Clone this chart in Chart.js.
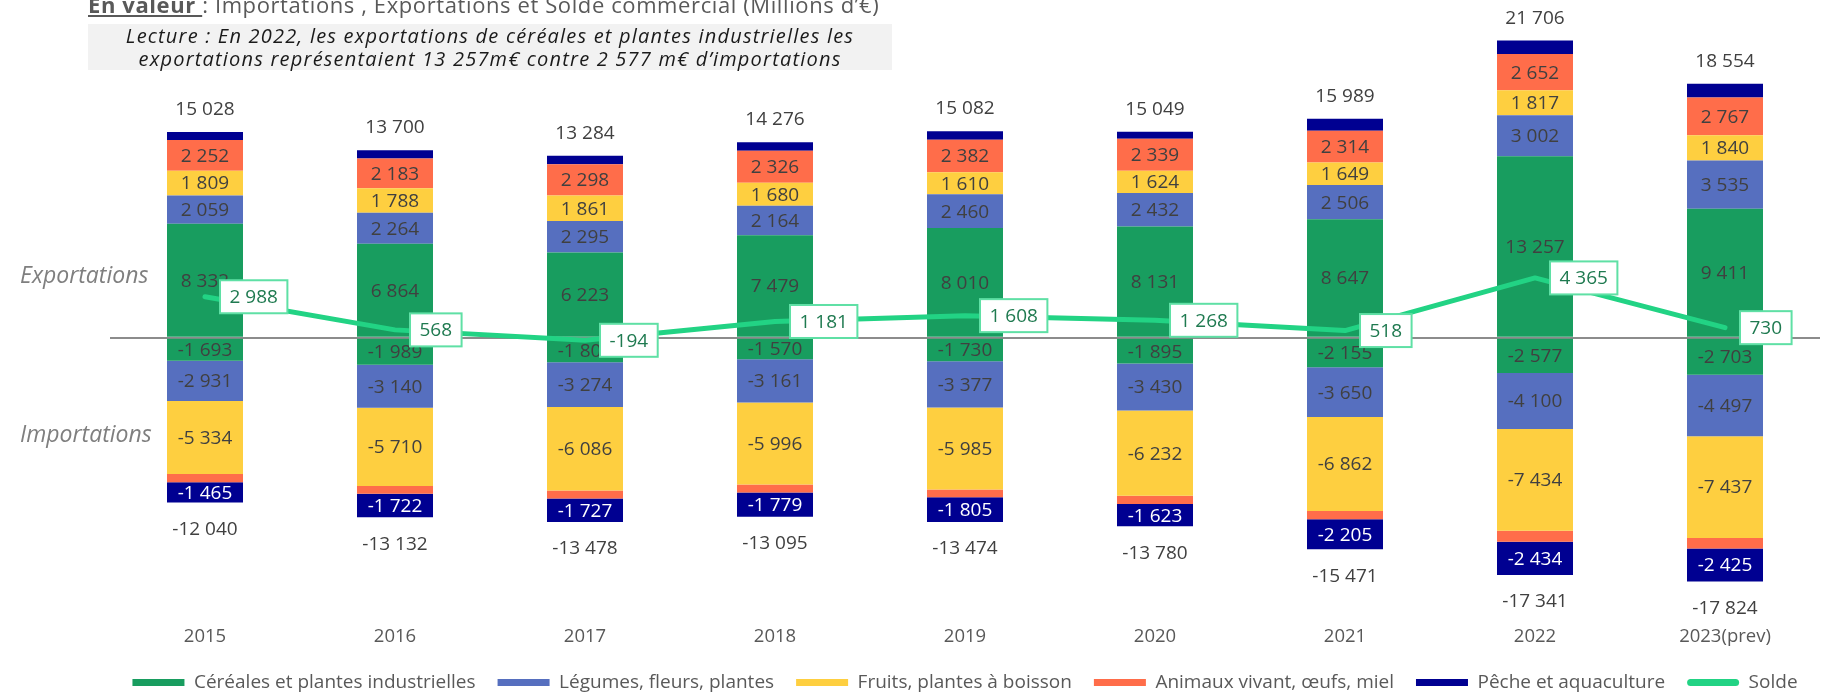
<!DOCTYPE html>
<html lang="fr">
<head>
<meta charset="utf-8">
<title>Importations, exportations et solde commercial</title>
<script src="https://cdn.jsdelivr.net/npm/chart.js@4.4.1/dist/chart.umd.min.js"></script>
<style>
  html, body { margin: 0; padding: 0; background: #fff; }
  #wrap { position: relative; width: 1841px; height: 694px; overflow: hidden; font-family: 'Open Sans', sans-serif; }
  #chart { position: absolute; left: 0; top: 0; }
  .overlay { position: absolute; white-space: nowrap; pointer-events: none; }
  #title { left: 88px; top: -7px; font-size: 22px; line-height: 22px; letter-spacing: 0.6px; color: #595959; }
  #title b { font-weight: 700; text-decoration: underline; }
  #lecture { left: 88px; top: 24px; width: 804px; height: 46px; background: #f2f2f2; text-align: center;
             font-style: italic; font-size: 20px; line-height: 23px; letter-spacing: 1.2px; color: #1a1a1a; }
  .side { left: 20px; font-style: italic; font-size: 23px; line-height: 28px; color: #7f7f7f; }
</style>
</head>
<body>
<div id="wrap">
  <canvas id="chart" width="1841" height="694"></canvas>
  <div id="title" class="overlay"><b>En valeur </b>: Importations , Exportations et Solde commercial (Millions d’€)</div>
  <div id="lecture" class="overlay">Lecture : En 2022, les exportations de céréales et plantes industrielles les<br>exportations représentaient 13 257m€ contre 2 577 m€ d’importations</div>
  <div class="overlay side" style="top:260px">Exportations</div>
  <div class="overlay side" style="top:419px">Importations</div>
</div>
<script>
const years = ['2015', '2016', '2017', '2018', '2019', '2020', '2021', '2022', '2023(prev)'];

// exportations (M€)
const expCereales = [8332, 6864, 6223, 7479, 8010, 8131, 8647, 13257, 9411];
const expLegumes  = [2059, 2264, 2295, 2164, 2460, 2432, 2506, 3002, 3535];
const expFruits   = [1809, 1788, 1861, 1680, 1610, 1624, 1649, 1817, 1840];
const expAnimaux  = [2252, 2183, 2298, 2326, 2382, 2339, 2314, 2652, 2767];
const expPeche    = [576, 601, 607, 627, 620, 523, 873, 978, 1001];

// importations (M€)
const impCereales = [-1693, -1989, -1801, -1570, -1730, -1895, -2155, -2577, -2703];
const impLegumes  = [-2931, -3140, -3274, -3161, -3377, -3430, -3650, -4100, -4497];
const impFruits   = [-5334, -5710, -6086, -5996, -5985, -6232, -6862, -7434, -7437];
const impAnimaux  = [-617, -571, -590, -589, -577, -600, -599, -796, -762];
const impPeche    = [-1465, -1722, -1727, -1779, -1805, -1623, -2205, -2434, -2425];

const exportTotals = [15028, 13700, 13284, 14276, 15082, 15049, 15989, 21706, 18554];
const importTotals = [-12040, -13132, -13478, -13095, -13474, -13780, -15471, -17341, -17824];
const solde = [2988, 568, -194, 1181, 1608, 1268, 518, 4365, 730];

const COL_CEREALES = '#189d5f';
const COL_LEGUMES = '#566fbf';
const COL_FRUITS = '#fecf40';
const COL_ANIMAUX = '#ff6d4a';
const COL_PECHE = '#000091';
const COL_SOLDE = '#22d384';

Chart.defaults.font.family = "'Open Sans', sans-serif";

function fmt(v) {
    const s = Math.abs(v).toString().replace(/\B(?=(\d{3})+(?!\d))/g, ' ');
    return (v < 0 ? '-' : '') + s;
}

function barSet(label, data, color, opts) {
    return Object.assign({
        type: 'bar',
        label: label,
        data: data,
        backgroundColor: color,
        stack: 'commerce',
        order: 1,
        categoryPercentage: 1,
        barPercentage: 0.4,
        showValues: true,
        valueColor: '#404040'
    }, opts || {});
}

// labels inside the bar segments, drawn right after each bar dataset (so under the line)
const segmentLabels = {
    id: 'segmentLabels',
    afterDatasetDraw(chart, args) {
        const ds = chart.data.datasets[args.index];
        if (!ds.showValues) return;
        const ctx = chart.ctx;
        ctx.save();
        ctx.font = "19px 'Open Sans'";
        ctx.textAlign = 'center';
        ctx.textBaseline = 'middle';
        ctx.fillStyle = ds.valueColor;
        args.meta.data.forEach((bar, j) => {
            ctx.fillText(fmt(ds.data[j]), bar.x, (bar.y + bar.base) / 2 + 1);
        });
        ctx.restore();
    },
    afterDatasetsDraw(chart) {
        const ctx = chart.ctx;
        ctx.save();
        ctx.font = "19px 'Open Sans'";
        ctx.textAlign = 'center';
        ctx.textBaseline = 'middle';
        ctx.fillStyle = '#404040';

        // totals above / below each stack
        chart.getDatasetMeta(4).data.forEach((bar, j) => {
            ctx.fillText(fmt(exportTotals[j]), bar.x, bar.y - 22.5);
        });
        chart.getDatasetMeta(9).data.forEach((bar, j) => {
            ctx.fillText(fmt(importTotals[j]), bar.x, bar.y + 27);
        });

        // solde boxes on the right of each point
        chart.getDatasetMeta(10).data.forEach((pt, j) => {
            const txt = fmt(solde[j]);
            const w = ctx.measureText(txt).width + 19;
            const h = 33;
            const x = pt.x + 15;
            const y = pt.y - h / 2;
            ctx.fillStyle = '#ffffff';
            ctx.fillRect(x, y, w, h);
            ctx.strokeStyle = '#5fe0a5';
            ctx.lineWidth = 2;
            ctx.strokeRect(x, y, w, h);
            ctx.fillStyle = '#1f7a50';
            ctx.fillText(txt, x + w / 2, pt.y + 1);
        });
        ctx.restore();
    }
};

const chart = new Chart(document.getElementById('chart'), {
    data: {
        labels: years,
        datasets: [
            barSet('Céréales et plantes industrielles', expCereales, COL_CEREALES),
            barSet('Légumes, fleurs, plantes', expLegumes, COL_LEGUMES),
            barSet('Fruits, plantes à boisson', expFruits, COL_FRUITS),
            barSet('Animaux vivant, œufs, miel', expAnimaux, COL_ANIMAUX),
            barSet('Pêche et aquaculture', expPeche, COL_PECHE, {showValues: false}),
            barSet('Céréales et plantes industrielles', impCereales, COL_CEREALES, {hideInLegend: true}),
            barSet('Légumes, fleurs, plantes', impLegumes, COL_LEGUMES, {hideInLegend: true}),
            barSet('Fruits, plantes à boisson', impFruits, COL_FRUITS, {hideInLegend: true}),
            barSet('Animaux vivant, œufs, miel', impAnimaux, COL_ANIMAUX, {hideInLegend: true, showValues: false}),
            barSet('Pêche et aquaculture', impPeche, COL_PECHE, {hideInLegend: true, valueColor: '#ffffff'}),
            {
                type: 'line',
                label: 'Solde',
                data: solde,
                stack: 'solde',
                order: 0,
                borderColor: COL_SOLDE,
                backgroundColor: COL_SOLDE,
                borderWidth: 5,
                borderCapStyle: 'round',
                borderJoinStyle: 'round',
                pointRadius: 0,
                tension: 0
            }
        ]
    },
    options: {
        responsive: false,
        animation: false,
        layout: { padding: { left: 110, right: 21, top: 0, bottom: 0 } },
        plugins: {
            legend: {
                position: 'bottom',
                maxHeight: 43,
                labels: {
                    boxWidth: 52,
                    boxHeight: 7,
                    padding: 22,
                    color: '#595959',
                    font: { size: 19 },
                    filter: (item, data) => !data.datasets[item.datasetIndex].hideInLegend,
                    sort: (a, b) => a.datasetIndex - b.datasetIndex,
                    generateLabels(c) {
                        const items = Chart.defaults.plugins.legend.labels.generateLabels(c);
                        items.forEach((it) => {
                            it.lineWidth = 0;
                            if (c.data.datasets[it.datasetIndex].type === 'line') {
                                it.borderRadius = 3.5;
                            }
                        });
                        return items;
                    }
                }
            },
            tooltip: { enabled: false }
        },
        scales: {
            x: {
                stacked: true,
                grid: { display: false, drawTicks: false },
                border: { display: false },
                ticks: { color: '#595959', font: { size: 18.5 }, padding: 3 }
            },
            y: {
                stacked: true,
                min: -21000,
                max: 24400,
                grid: { drawTicks: false, color: '#8c8c8c', lineWidth: 2 },
                border: { display: false },
                ticks: { display: false },
                afterBuildTicks(scale) { scale.ticks = [{ value: 0 }]; }
            }
        }
    },
    plugins: [segmentLabels]
});

// fit the value range so that zero and the scale match the original layout
const zeroY = 336.5;
const pxPerUnit = 0.01374;
const area = chart.chartArea;
chart.options.scales.y.max = (zeroY - area.top) / pxPerUnit;
chart.options.scales.y.min = -(area.bottom - zeroY) / pxPerUnit;
chart.update();
</script>
</body>
</html>
